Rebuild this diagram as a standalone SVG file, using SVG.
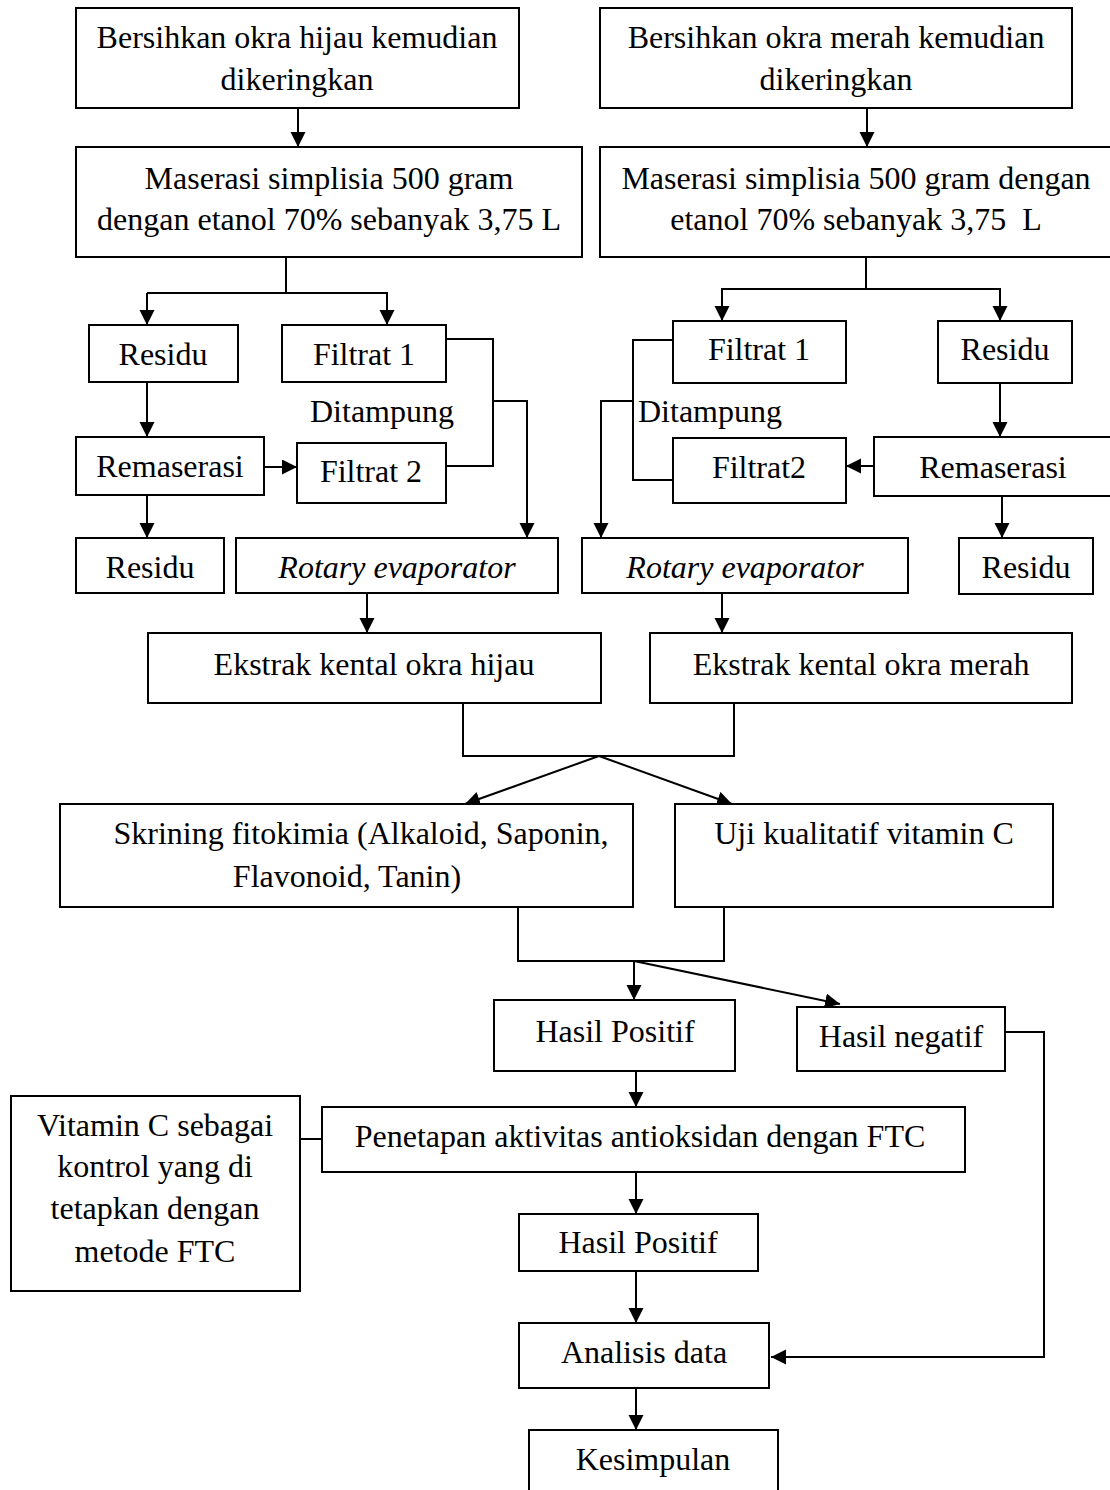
<svg xmlns="http://www.w3.org/2000/svg" width="1110" height="1490" viewBox="0 0 1110 1490">
<style>
.b{fill:#fff;stroke:#000;stroke-width:2}
.t{font-family:"Liberation Serif","Times New Roman",serif;font-size:32px;fill:#000;text-anchor:middle}
.i{font-style:italic}
.c{fill:none;stroke:#000;stroke-width:2}
.a{fill:none;stroke:#000;stroke-width:2;marker-end:url(#ah)}
</style>
<defs>
<marker id="ah" markerUnits="userSpaceOnUse" markerWidth="16" markerHeight="16" refX="15" refY="7.5" orient="auto">
<path d="M0,0 L15,7.5 L0,15 z" fill="#000"/>
</marker>
</defs>
<rect width="1110" height="1490" fill="#fff"/>
<g id="connectors">
<path class="a" d="M298,108 V147"/>
<path class="a" d="M867,108 V147"/>
<path class="c" d="M286,257 V293"/>
<path class="a" d="M147,293 H286 M147,293 V325"/>
<path class="a" d="M286,293 H387 V325"/>
<path class="c" d="M446,339 H493 V466 H446"/>
<path class="a" d="M493,401 H527 V538"/>
<path class="a" d="M147,382 V437"/>
<path class="a" d="M264,467 H297"/>
<path class="a" d="M147,495 V538"/>
<path class="a" d="M367,593 V633"/>
<path class="c" d="M866,257 V289"/>
<path class="a" d="M866,289 H722 V321"/>
<path class="a" d="M866,289 H1000 V321"/>
<path class="c" d="M673,340 H633 V480 H673"/>
<path class="a" d="M633,401 H601 V538"/>
<path class="a" d="M1000,383 V437"/>
<path class="a" d="M874,466 H846"/>
<path class="a" d="M1002,496 V538"/>
<path class="a" d="M722,593 V633"/>
<path class="c" d="M463,703 V756 H734 V703"/>
<path class="a" d="M599,756 L465,804"/>
<path class="a" d="M599,756 L732,804"/>
<path class="c" d="M518,907 V961 H724 V907"/>
<path class="a" d="M634,961 V1000"/>
<path class="a" d="M634,961 L840,1004"/>
<path class="a" d="M1005,1032 H1044 V1357 H771"/>
<path class="c" d="M300,1139 H322"/>
<path class="a" d="M636,1071 V1107"/>
<path class="a" d="M636,1172 V1214"/>
<path class="a" d="M636,1271 V1323"/>
<path class="a" d="M636,1388 V1430"/>
</g>
<g id="bersih-hijau"><rect class="b" x="76" y="8" width="443" height="100"/>
<text class="t" x="297" y="48">Bersihkan okra hijau kemudian</text><text class="t" x="297" y="90">dikeringkan</text></g>
<g id="bersih-merah"><rect class="b" x="600" y="8" width="472" height="100"/>
<text class="t" x="836" y="48">Bersihkan okra merah kemudian</text><text class="t" x="836" y="90">dikeringkan</text></g>
<g id="maserasi-hijau"><rect class="b" x="76" y="147" width="506" height="110"/>
<text class="t" x="329" y="189">Maserasi simplisia 500 gram</text><text class="t" x="329" y="230">dengan etanol 70% sebanyak 3,75 L</text></g>
<g id="maserasi-merah"><rect class="b" x="600" y="147" width="515" height="110"/>
<text class="t" x="856" y="189">Maserasi simplisia 500 gram dengan</text><text class="t" x="856" y="230" xml:space="preserve">etanol 70% sebanyak 3,75  L</text></g>
<g id="residu-l1"><rect class="b" x="89" y="325" width="149" height="57"/><text class="t" x="163" y="365">Residu</text></g>
<g id="filtrat1-l"><rect class="b" x="282" y="325" width="164" height="57"/><text class="t" x="364" y="365">Filtrat 1</text></g>
<g id="ditampung-l"><text class="t" x="382" y="422">Ditampung</text></g>
<g id="remaserasi-l"><rect class="b" x="76" y="437" width="188" height="58"/><text class="t" x="170" y="477">Remaserasi</text></g>
<g id="filtrat2-l"><rect class="b" x="297" y="443" width="149" height="60"/><text class="t" x="371" y="482">Filtrat 2</text></g>
<g id="residu-l2"><rect class="b" x="76" y="538" width="148" height="55"/><text class="t" x="150" y="578">Residu</text></g>
<g id="rotary-l"><rect class="b" x="236" y="538" width="322" height="55"/><text class="t i" x="397" y="578">Rotary evaporator</text></g>
<g id="filtrat1-r"><rect class="b" x="673" y="321" width="173" height="62"/><text class="t" x="759" y="360">Filtrat 1</text></g>
<g id="residu-r1"><rect class="b" x="938" y="321" width="134" height="62"/><text class="t" x="1005" y="360">Residu</text></g>
<g id="ditampung-r"><text class="t" x="710" y="422">Ditampung</text></g>
<g id="filtrat2-r"><rect class="b" x="673" y="438" width="173" height="65"/><text class="t" x="759" y="478">Filtrat2</text></g>
<g id="remaserasi-r"><rect class="b" x="874" y="437" width="241" height="59"/><text class="t" x="993" y="478">Remaserasi</text></g>
<g id="residu-r2"><rect class="b" x="959" y="538" width="134" height="56"/><text class="t" x="1026" y="578">Residu</text></g>
<g id="rotary-r"><rect class="b" x="582" y="538" width="326" height="55"/><text class="t i" x="745" y="578">Rotary evaporator</text></g>
<g id="ekstrak-hijau"><rect class="b" x="148" y="633" width="453" height="70"/><text class="t" x="374" y="675">Ekstrak kental okra hijau</text></g>
<g id="ekstrak-merah"><rect class="b" x="650" y="633" width="422" height="70"/><text class="t" x="861" y="675">Ekstrak kental okra merah</text></g>
<g id="skrining"><rect class="b" x="60" y="804" width="573" height="103"/>
<text class="t" x="361" y="844">Skrining fitokimia (Alkaloid, Saponin,</text><text class="t" x="347" y="887">Flavonoid, Tanin)</text></g>
<g id="uji"><rect class="b" x="675" y="804" width="378" height="103"/><text class="t" x="864" y="844">Uji kualitatif vitamin C</text></g>
<g id="positif1"><rect class="b" x="494" y="1000" width="241" height="71"/><text class="t" x="615" y="1042">Hasil Positif</text></g>
<g id="negatif"><rect class="b" x="797" y="1007" width="208" height="64"/><text class="t" x="901" y="1047">Hasil negatif</text></g>
<g id="vitc"><rect class="b" x="11" y="1096" width="289" height="195"/>
<text class="t" x="155" y="1136">Vitamin C sebagai</text><text class="t" x="155" y="1177">kontrol yang di</text><text class="t" x="155" y="1219">tetapkan dengan</text><text class="t" x="155" y="1262">metode FTC</text></g>
<g id="penetapan"><rect class="b" x="322" y="1107" width="643" height="65"/><text class="t" x="640" y="1147">Penetapan aktivitas antioksidan dengan FTC</text></g>
<g id="positif2"><rect class="b" x="519" y="1214" width="239" height="57"/><text class="t" x="638" y="1253">Hasil Positif</text></g>
<g id="analisis"><rect class="b" x="519" y="1323" width="250" height="65"/><text class="t" x="644" y="1363">Analisis data</text></g>
<g id="kesimpulan"><rect class="b" x="529" y="1430" width="249" height="70"/><text class="t" x="653" y="1470">Kesimpulan</text></g>
</svg>
